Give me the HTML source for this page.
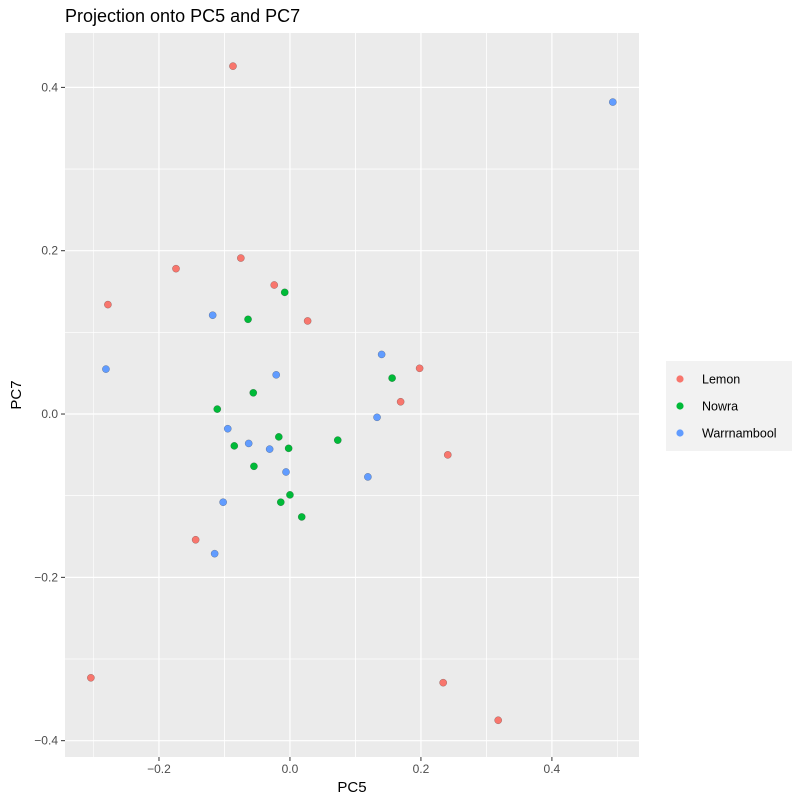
<!DOCTYPE html>
<html><head><meta charset="utf-8"><style>
body{margin:0;background:#fff;font-family:"Liberation Sans",sans-serif}
</style></head><body>
<svg id="chart" width="802" height="802" xmlns="http://www.w3.org/2000/svg" font-family="Liberation Sans, sans-serif">
<text x="65" y="22" font-size="18" fill="#000">Projection onto PC5 and PC7</text>
<rect x="65" y="33" width="574" height="724" fill="#EBEBEB"/>
<g id="grid"></g><g id="ticks"></g><g id="points"></g>
<text x="352" y="792" font-size="15" text-anchor="middle">PC5</text>
<text transform="translate(21,395) rotate(-90)" font-size="15" text-anchor="middle">PC7</text>
<g>
<rect x="666" y="361" width="126" height="90" fill="#F2F2F2"/>
<g id="legend"></g>
</g>
</svg>
<script>
const groups=["Lemon","Nowra","Warrnambool"];
const colors=["#F8766D","#00BA38","#619CFF"];
const lemonX=[-0.087,-0.174,-0.075,-0.278,-0.024,0.027,0.198,0.169,0.241,-0.144,-0.304,0.234,0.318];
const lemonY=[0.426,0.178,0.191,0.134,0.158,0.114,0.056,0.015,-0.050,-0.154,-0.323,-0.329,-0.375];
const nowraX=[-0.008,-0.064,0.156,-0.111,-0.056,-0.085,-0.017,-0.002,0.073,-0.055,0.000,-0.014,0.018];
const nowraY=[0.149,0.116,0.044,0.006,0.026,-0.039,-0.028,-0.042,-0.032,-0.064,-0.099,-0.108,-0.126];
const warrX=[0.493,-0.118,-0.281,-0.021,0.140,0.133,-0.095,-0.063,-0.031,-0.006,0.119,-0.102,-0.115];
const warrY=[0.382,0.121,0.055,0.048,0.073,-0.004,-0.018,-0.036,-0.043,-0.071,-0.077,-0.108,-0.171];
const xTicks=[-0.2,0,0.2,0.4];
const xTickLabels=["\u22120.2","0.0","0.2","0.4"];
const yTicks=[-0.4,-0.2,0,0.2,0.4];
const yTickLabels=["\u22120.4","\u22120.2","0.0","0.2","0.4"];
const L=65,R=639,T=33,B=757,xMin=-0.3435,xMax=0.533,yMin=-0.42,yMax=0.4666;
const sx=v=>L+(v-xMin)/(xMax-xMin)*(R-L);
const sy=v=>B-(v-yMin)/(yMax-yMin)*(B-T);
const NS="http://www.w3.org/2000/svg";
function mk(tag,attrs,parent){const e=document.createElementNS(NS,tag);for(const k in attrs)e.setAttribute(k,attrs[k]);parent.appendChild(e);return e;}
const grid=document.getElementById('grid'),ticks=document.getElementById('ticks');
for(let i=0;i<xTicks.length;i++){
  [xTicks[i]-0.1,xTicks[i]+0.1].forEach(m=>{if(sx(m)>L&&sx(m)<R){const g=mk('line',{x1:sx(m),x2:sx(m),y1:T,y2:B,stroke:'#fff','stroke-width':0.6},grid);

}});
}
for(let i=0;i<yTicks.length;i++){
  [yTicks[i]-0.1,yTicks[i]+0.1].forEach(m=>{if(sy(m)>T&&sy(m)<B){const g=mk('line',{x1:L,x2:R,y1:sy(m),y2:sy(m),stroke:'#fff','stroke-width':0.6},grid);

}});
}
xTicks.forEach((v,i)=>{
  const g=mk('line',{x1:sx(v),x2:sx(v),y1:T,y2:B,stroke:'#fff','stroke-width':1.2},grid);
  
  
  const t=mk('line',{x1:sx(v),x2:sx(v),y1:B,y2:B+4,stroke:'#333','stroke-width':1},ticks);
  
  
  const l=mk('text',{x:sx(v),y:B+16,'font-size':12,'text-anchor':'middle',fill:'#4D4D4D'},ticks);
  l.textContent=xTickLabels[i];
  
  
});
yTicks.forEach((v,i)=>{
  const g=mk('line',{x1:L,x2:R,y1:sy(v),y2:sy(v),stroke:'#fff','stroke-width':1.2},grid);
  
  
  const t=mk('line',{x1:L-4,x2:L,y1:sy(v),y2:sy(v),stroke:'#333','stroke-width':1},ticks);
  
  
  const l=mk('text',{x:L-7,y:sy(v)+4,'font-size':12,'text-anchor':'end',fill:'#4D4D4D'},ticks);
  l.textContent=yTickLabels[i];
  
  
});
const pts=document.getElementById('points');
const series=[[lemonX,lemonY],[nowraX,nowraY],[warrX,warrY]];
series.forEach((s,gi)=>{
  s[0].forEach((x,i)=>{
    const c=mk('circle',{cx:sx(x),cy:sy(s[1][i]),r:3.6,fill:colors[gi],stroke:'rgba(0,0,0,0.35)','stroke-width':0.5},pts);
    
    
  });
});
const leg=document.getElementById('legend');
groups.forEach((g,i)=>{
  const y=379+i*27;
  const k=mk('rect',{x:670,y:y-10,width:20,height:20,fill:'#F2F2F2'},leg);
  
  
  const c=mk('circle',{cx:680,cy:y,r:3.6,fill:colors[i]},leg);
  
  
  const t=mk('text',{x:702,y:y+4.5,'font-size':12.5,fill:'#000'},leg);
  t.textContent=g;
  
  
});
</script>
</body></html>
